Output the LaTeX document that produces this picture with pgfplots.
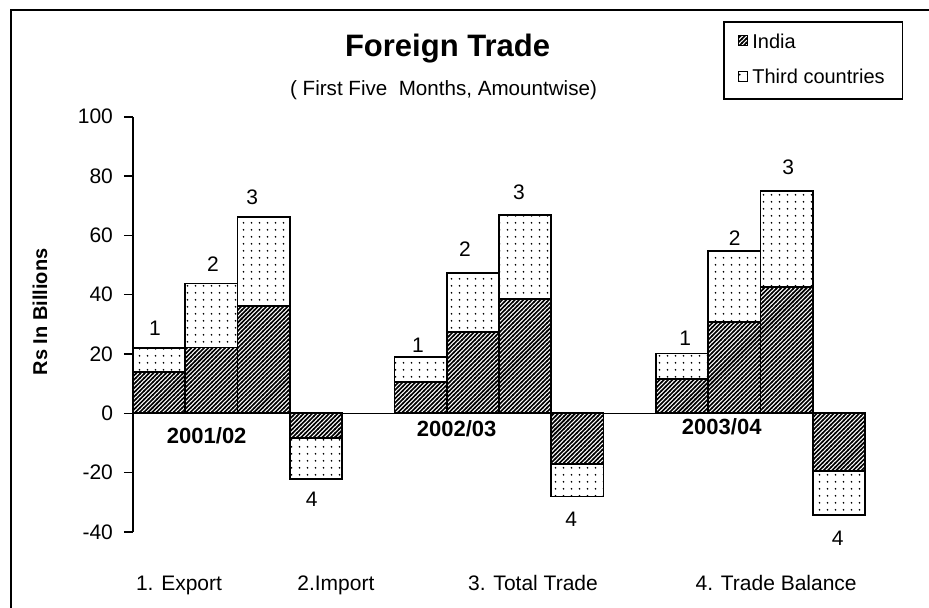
\documentclass[border=0pt]{standalone}
\usepackage{pgfplots}
\pgfplotsset{compat=1.18}
\usepackage{fontspec}
\setmainfont{Liberation Sans}
\usetikzlibrary{patterns}

\pgfdeclarepatternformonly{hatchdense}{\pgfpoint{-0.5pt}{-0.5pt}}{\pgfpoint{2.62pt}{2.62pt}}{\pgfpoint{2.12pt}{2.12pt}}{
  \pgfsetlinewidth{0.8pt}
  \pgfpathmoveto{\pgfpoint{-0.2pt}{-0.2pt}}
  \pgfpathlineto{\pgfpoint{2.32pt}{2.32pt}}
  \pgfusepath{stroke}
}
\pgfdeclarepatternformonly{sparsedots}{\pgfpointorigin}{\pgfpoint{4pt}{3.35pt}}{\pgfpoint{4pt}{3.35pt}}{
  \pgfpathcircle{\pgfpoint{2pt}{1.67pt}}{0.5pt}
  \pgfusepath{fill}
}
\tikzset{lbl/.style={font=\fontsize{10.5}{12}\selectfont, text height=1.5ex, text depth=0.25ex},
         blbl/.style={font=\bfseries\fontsize{11}{13}\selectfont, text height=1.5ex, text depth=0.25ex}}
\pgfplotsset{legimg/.style={legend image code/.code={\draw[##1, line width=0.5pt] (0pt,-1.4pt) rectangle (4.8pt,3.4pt);}}}

\begin{document}
\begin{tikzpicture}
\useasboundingbox (0,0) rectangle (464.5pt,303.5pt);
\draw[line width=1pt] (5.5pt,-2pt) -- (5.5pt,298.5pt) -- (470pt,298.5pt);
\node[font=\bfseries\fontsize{15.5}{18}\selectfont, anchor=base] at (223.75pt,275.5pt) {Foreign Trade};
\node[font=\fontsize{10.3}{12}\selectfont, anchor=base] at (221.75pt,256pt) {( First Five\ \ Months, Amountwise)};
\begin{axis}[
  at={(66.5pt,37.5pt)}, anchor=south west,
  scale only axis, width=366pt, height=207.65pt,
  xmin=0, xmax=14, ymin=-40, ymax=100,
  ybar stacked, bar width=1,
  axis lines=left,
  x axis line style={draw=none},
  y axis line style={-, line width=0.8pt},
  xtick=\empty,
  ytick={-40,-20,0,20,40,60,80,100},
  tick align=outside, major tick length=4.5pt,
  tick style={black, line width=0.8pt},
  yticklabel style={font=\fontsize{10.5}{12}\selectfont, xshift=-2pt},
  /pgf/number format/assume math mode=true,
  ylabel={Rs In Billions},
  ylabel style={font=\bfseries\fontsize{10}{12}\selectfont, at={(axis description cs:-0.127,0.53)}, anchor=center},
  clip=false,
  legend cell align=left,
  legend style={at={(axis description cs:0.806,1.230)}, anchor=north west, draw=black, line width=0.8pt,
    font=\fontsize{10}{12}\selectfont, row sep=5pt, inner xsep=7pt, inner ysep=4pt},
  legimg,
]
\addplot[draw=black, line width=0.9pt, pattern=hatchdense] coordinates {
 (0.5,13.85) (1.5,22.2) (2.5,36.1) (3.5,-8.3)
 (5.5,10.5) (6.5,27.4) (7.5,38.6) (8.5,-17.1)
 (10.5,11.6) (11.5,30.7) (12.5,42.5) (13.5,-19.5)};
\addlegendentry{India}
\addplot[draw=black, line width=0.9pt, pattern=sparsedots] coordinates {
 (0.5,8.25) (1.5,21.6) (2.5,30.0) (3.5,-13.9)
 (5.5,8.4) (6.5,20.0) (7.5,28.2) (8.5,-10.9)
 (10.5,8.6) (11.5,24.1) (12.5,32.4) (13.5,-14.7)};
\addlegendentry{Third countries}
\draw[line width=0.8pt] (axis cs:0,0) -- (axis cs:14,0);
\node[lbl] at (axis cs:0.42,28.6) {1};
\node[lbl] at (axis cs:1.53,49.9) {2};
\node[lbl] at (axis cs:2.28,72.5) {3};
\node[lbl] at (axis cs:3.42,-29.2) {4};
\node[lbl] at (axis cs:5.45,22.9) {1};
\node[lbl] at (axis cs:6.35,55.0) {2};
\node[lbl] at (axis cs:7.38,74.2) {3};
\node[lbl] at (axis cs:8.38,-35.9) {4};
\node[lbl] at (axis cs:10.56,25.2) {1};
\node[lbl] at (axis cs:11.51,58.7) {2};
\node[lbl] at (axis cs:12.53,82.7) {3};
\node[lbl] at (axis cs:13.48,-42.3) {4};
\node[lbl] at (axis cs:0.88,-57.5) {1. Export};
\node[lbl] at (axis cs:3.88,-57.5) {2.Import};
\node[lbl] at (axis cs:7.65,-57.5) {3. Total Trade};
\node[lbl] at (axis cs:12.30,-57.5) {4. Trade Balance};
\node[blbl] at (axis cs:1.41,-8.1) {2001/02};
\node[blbl] at (axis cs:6.19,-5.5) {2002/03};
\node[blbl] at (axis cs:11.26,-4.8) {2003/04};
\end{axis}
\end{tikzpicture}
\end{document}
